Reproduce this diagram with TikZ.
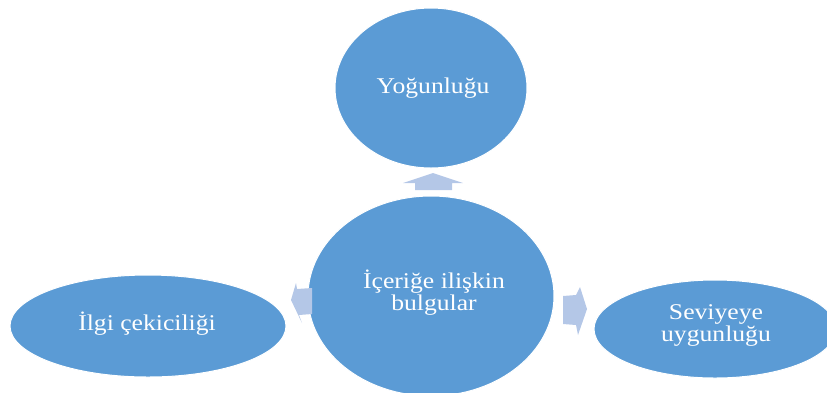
\documentclass[tikz,border=0pt]{standalone}
\usepackage{fontspec}
\setmainfont[FakeStretch=1.14]{Liberation Serif}
\begin{document}
\begin{tikzpicture}[x=1pt,y=-1pt,
  bubble/.style={fill=bubbleblue, draw=white, line width=1pt},
  bubblelabel/.style={text=white, font=\fontsize{22.5}{21.5}\selectfont, align=center,
    inner sep=0pt, anchor=base},
  blockarrow/.style={fill=arrowblue, draw=none}]
\definecolor{bubbleblue}{HTML}{5B9BD5}
\definecolor{arrowblue}{HTML}{B4C7E7}
\useasboundingbox (0,0) rectangle (827,392);
\begin{scope}
\clip (0,0) rectangle (827,392);
% ellipses
\path[bubble] (431,88) ellipse [x radius=96, y radius=80];
\path[bubble] (431,296) ellipse [x radius=123, y radius=100];
\path[bubble] (148,326) ellipse [x radius=138, y radius=51];
\path[bubble] (715,329) ellipse [x radius=121, y radius=49];
% labels (anchored at the baseline of their last line)
\node[bubblelabel] (top) at (433,93) {Yoğunluğu};
\node[bubblelabel] (mid) at (434,310) {İçeriğe ilişkin\\bulgular};
\node[bubblelabel] (left) at (147,330) {İlgi çekiciliği};
\node[bubblelabel] (right) at (716,341) {Seviyeye\\uygunluğu};
% block arrows
\fill[blockarrow] (415,190) -- (415,183) -- (403,183) -- (433,173) -- (463,183)
  -- (452,183) -- (452,190) -- cycle;
\fill[blockarrow] (312,288) -- (297,289) -- (296,283) -- (291,300) -- (302,323)
  -- (299,315) -- (312,314) -- cycle;
\fill[blockarrow] (563,296) -- (576,295) -- (580,287) -- (587,309) -- (578,335)
  -- (576,325) -- (563,324) -- cycle;
\end{scope}
\end{tikzpicture}
\end{document}
